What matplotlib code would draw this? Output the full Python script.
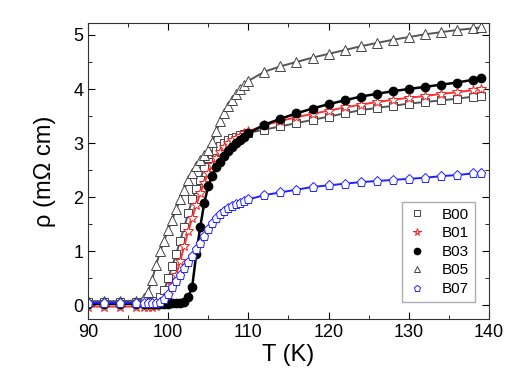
import numpy as np
import matplotlib
matplotlib.use('Agg')
import matplotlib.pyplot as plt
from matplotlib.ticker import MultipleLocator

plt.rcParams['font.family'] = ['Liberation Sans', 'DejaVu Sans']

# temperature grid (K) shared by all samples
T = [90, 92, 94, 96, 97, 97.5, 98, 98.5, 99, 99.5, 100, 100.5, 101, 101.5,
     102, 102.5, 103, 103.5, 104, 104.5, 105, 105.5, 106, 106.5, 107, 107.5,
     108, 108.5, 109, 109.5, 110, 112, 114, 116, 118, 120, 122, 124, 126, 128,
     130, 132, 134, 136, 138, 139]

# resistivity (mOhm cm)
B00 = [0.06, 0.06, 0.06, 0.06, 0.06, 0.06, 0.07, 0.08, 0.15, 0.28, 0.5, 0.73,
       0.95, 1.2, 1.45, 1.7, 1.96, 2.15, 2.32, 2.55, 2.72, 2.8, 2.87, 2.94,
       3.0, 3.05, 3.09, 3.12, 3.15, 3.17, 3.19, 3.25, 3.31, 3.37, 3.43, 3.49,
       3.55, 3.61, 3.65, 3.69, 3.73, 3.76, 3.79, 3.82, 3.86, 3.88]
B01 = [-0.02, -0.02, -0.02, -0.02, -0.02, -0.02, -0.02, -0.01, 0.02, 0.08,
       0.2, 0.38, 0.57, 0.82, 1.1, 1.37, 1.62, 1.86, 2.07, 2.27, 2.44, 2.6,
       2.73, 2.84, 2.93, 3.0, 3.05, 3.1, 3.14, 3.18, 3.22, 3.33, 3.41, 3.48,
       3.54, 3.6, 3.66, 3.71, 3.76, 3.8, 3.84, 3.87, 3.91, 3.94, 3.98, 4.0]
B03 = [0.03, 0.03, 0.03, 0.03, 0.03, 0.03, 0.03, 0.03, 0.03, 0.03, 0.03, 0.04,
       0.04, 0.05, 0.07, 0.15, 0.35, 0.95, 1.45, 1.9, 2.2, 2.4, 2.55, 2.66,
       2.76, 2.85, 2.93, 3.0, 3.06, 3.12, 3.18, 3.34, 3.45, 3.55, 3.64, 3.72,
       3.79, 3.86, 3.91, 3.96, 4.0, 4.04, 4.08, 4.12, 4.17, 4.2]
B05 = [0.08, 0.08, 0.08, 0.09, 0.14, 0.25, 0.48, 0.75, 1.0, 1.2, 1.4, 1.58,
       1.78, 1.96, 2.14, 2.32, 2.45, 2.58, 2.68, 2.78, 2.88, 3.02, 3.22, 3.4,
       3.55, 3.68, 3.8, 3.91, 4.0, 4.08, 4.15, 4.32, 4.42, 4.5, 4.58, 4.65,
       4.72, 4.79, 4.85, 4.91, 4.96, 5.01, 5.05, 5.09, 5.12, 5.14]
B07 = [0.05, 0.05, 0.05, 0.05, 0.05, 0.05, 0.05, 0.05, 0.07, 0.12, 0.22, 0.35,
       0.46, 0.57, 0.69, 0.8, 0.92, 1.04, 1.16, 1.29, 1.42, 1.53, 1.62, 1.69,
       1.75, 1.8, 1.84, 1.87, 1.9, 1.93, 1.96, 2.04, 2.09, 2.14, 2.19, 2.22,
       2.25, 2.28, 2.3, 2.32, 2.34, 2.36, 2.39, 2.41, 2.44, 2.45]

fig = plt.figure(figsize=(5.32, 3.81), dpi=100)
ax = fig.add_axes([0.1654, 0.1627, 0.7536, 0.7769])

ax.plot(T, B00, '-s', color='#555555', mfc='white', mec='#444444', ms=5.5, mew=0.7, lw=1.4, label='B00')
ax.plot(T, B01, '-*', color='#ff3030', mfc='white', mec='#ee2020', ms=7.5, mew=0.7, lw=1.4, label='B01')
ax.plot(T, B03, '-o', color='black', mfc='black', mec='black', ms=6, lw=1.8, label='B03')
ax.plot(T, B05, '-^', color='#555555', mfc='white', mec='#444444', ms=6.5, mew=0.7, lw=1.4, label='B05')
ax.plot(T, B07, '-p', color='#2020ff', mfc='white', mec='#2020ff', ms=6.5, mew=0.7, lw=1.4, label='B07')

ax.set_xlim(90, 140)
ax.set_ylim(-0.25, 5.22)
ax.xaxis.set_major_locator(MultipleLocator(10))
ax.xaxis.set_minor_locator(MultipleLocator(5))
ax.yaxis.set_major_locator(MultipleLocator(1))
ax.yaxis.set_minor_locator(MultipleLocator(0.5))
ax.tick_params(which='both', direction='in', top=True, right=True, labelsize=13)
ax.tick_params(which='major', length=5)
ax.tick_params(which='minor', length=3)
for s in ax.spines.values():
    s.set_color('#333333')

ax.set_xlabel('T (K)', fontsize=17, labelpad=2)
ax.set_ylabel('ρ (mΩ cm)', fontsize=17, labelpad=12)

leg = ax.legend(loc='lower right', bbox_to_anchor=(0.965, 0.057), fontsize=11,
                handlelength=1.2, fancybox=False, edgecolor='#999999',
                borderaxespad=0, labelspacing=0.3, handletextpad=1.0,
                markerscale=0.75)
for h in leg.legend_handles:
    h.set_linestyle('')

fig.savefig('out.png', dpi=100)
